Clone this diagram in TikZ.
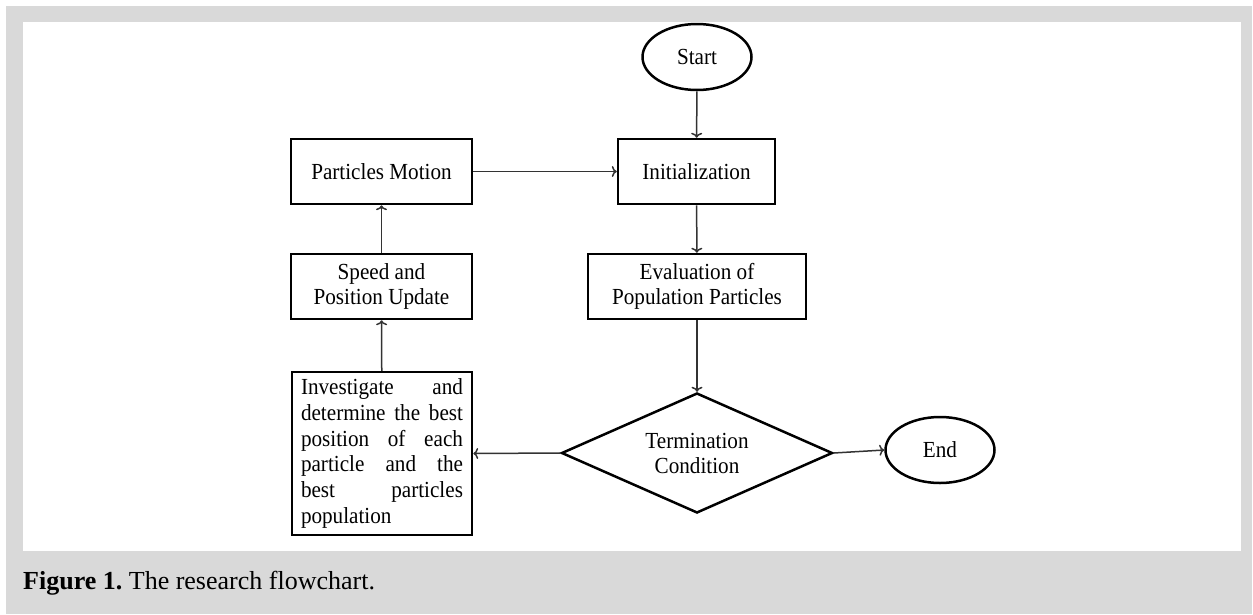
\documentclass[tikz,border=0pt]{standalone}
\usepackage{fontspec}
\setmainfont{Liberation Serif}
\newfontfamily\boxfont[FakeStretch=0.92]{Liberation Serif}
\usetikzlibrary{shapes.geometric,arrows.meta}

\tikzset{
  boxtext/.style={font=\boxfont\fontsize{23}{25}\selectfont},
  procbox/.style={boxtext, draw=black, line width=2.5pt, rectangle,
    align=center, minimum height=65pt, inner sep=0pt},
  termbox/.style={boxtext, draw=black, line width=2.5pt, ellipse,
    minimum width=109pt, minimum height=66pt, inner sep=0pt},
  decbox/.style={boxtext, draw=black, line width=2.5pt, diamond,
    aspect=2.25, align=center, minimum width=271pt, minimum height=120pt,
    inner sep=0pt},
  flowline/.style={draw=black!80, line width=1.5pt,
    -{To[length=5pt,width=11pt]}}
}

\begin{document}
\begin{tikzpicture}[x=1pt,y=-1pt]
  % frame and background
  \useasboundingbox (0,0) rectangle (1253,614);
  \fill[black!15] (6,6) rectangle (1252,614);
  \fill[white] (23,22) rectangle (1241,551);

  \node[termbox] (start) at (697,57) {Start};
  \node[procbox, minimum width=157pt] (init) at (696.5,171.5) {Initialization};
  \node[procbox, minimum width=218pt] (eval) at (697,286.5)
    {Evaluation of\\Population Particles};
  \node[decbox] (term) at (697,453) {Termination\\Condition};
  \node[termbox] (finish) at (940,450) {End};
  \node[procbox, minimum width=181pt] (motion) at (381.5,171.5)
    {Particles Motion};
  \node[procbox, minimum width=181pt] (update) at (381.5,286.5)
    {Speed and\\Position Update};
  \node[procbox, minimum height=163pt, text width=162pt, inner xsep=9pt,
    align=justify, font=\boxfont\fontsize{23}{25.8}\selectfont] (invest)
    at (382,453.5)
    {Investigate and\linebreak determine the best\linebreak position of
     each\linebreak particle and the\linebreak best particles\linebreak
     population};

  \draw[flowline] (start) -- (init);
  \draw[flowline] (init) -- (eval);
  \draw[flowline] (eval) -- (term);
  \draw[flowline] (term.east) -- (finish.west);
  \draw[flowline] (term.west) -- (invest.east);
  \draw[flowline] (invest) -- (update);
  \draw[flowline] (update) -- (motion);
  \draw[flowline] (motion) -- (init);

  % caption
  \node[anchor=base west, inner sep=0pt, font=\fontsize{26}{30}\selectfont]
    (caption) at (23,589) {\textbf{Figure 1.}\ The research flowchart.};
\end{tikzpicture}
\end{document}
